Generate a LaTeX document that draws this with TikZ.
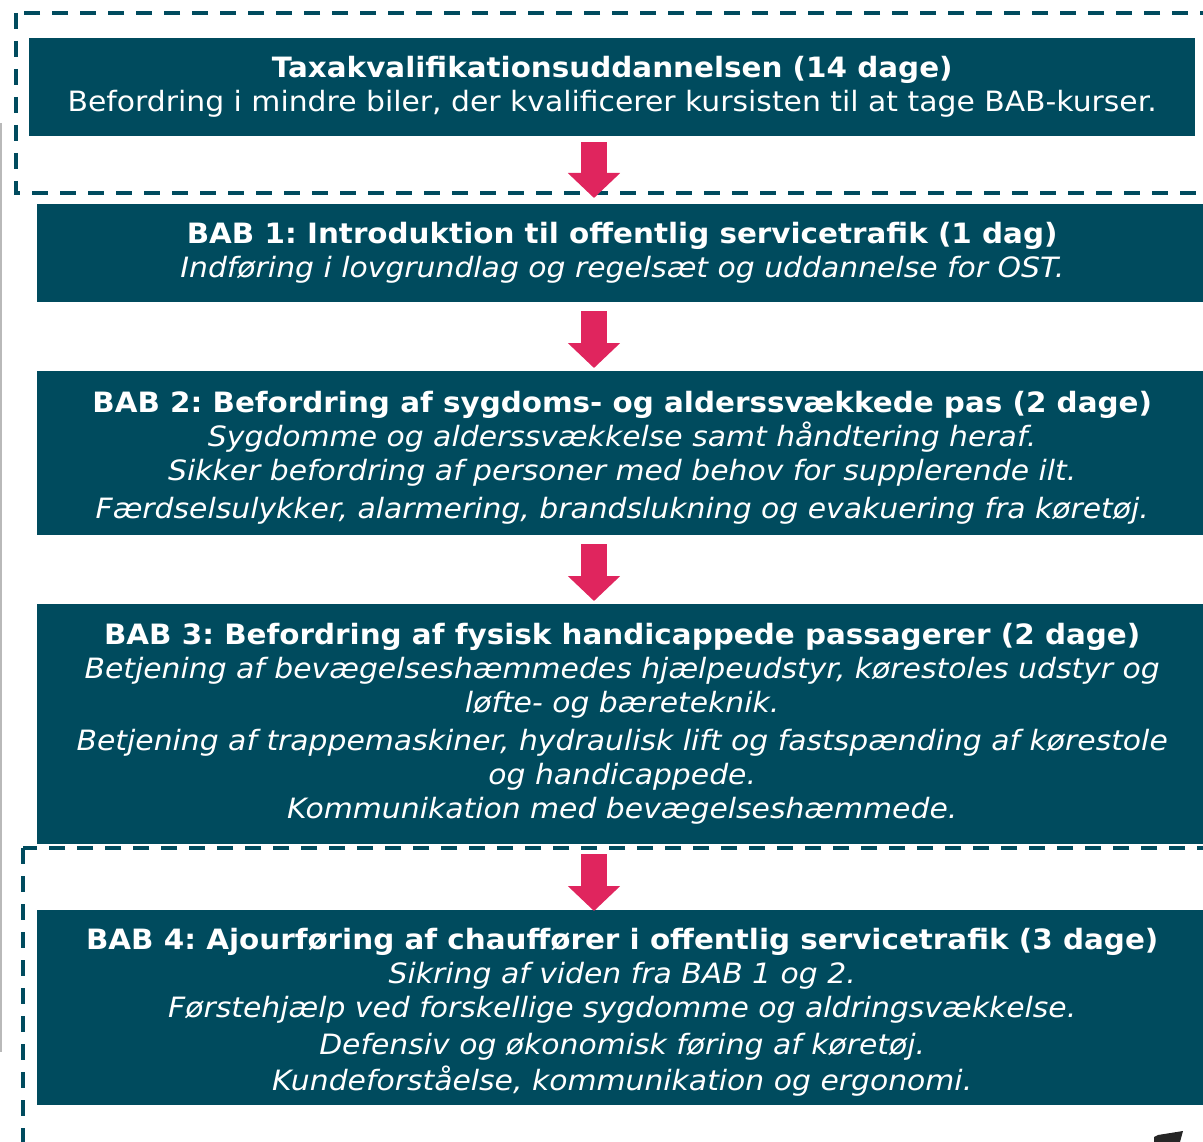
\documentclass[tikz,border=0pt]{standalone}
\usepackage{fontspec}
\setmainfont{DejaVu Sans}[FakeStretch=1.065,BoldFeatures={FakeStretch=1.05}]
\usetikzlibrary{arrows.meta,calc}
\definecolor{babteal}{RGB}{0,75,94}
\definecolor{babred}{RGB}{224,37,94}
\tikzset{
  babbox/.style={fill=babteal,text=white,inner sep=0pt,align=center,
    anchor=north west,font=\fontsize{28}{34}\selectfont},
  flowarrow/.style={draw=babred,line width=26pt,
    -{Triangle[width=51pt,length=25pt]}},
  groupframe/.style={draw=babteal,line width=3.5pt,
    dash pattern=on 16pt off 12pt},
}
\newcommand{\toplift}{\rule{0pt}{30pt}}
\frenchspacing

\begin{document}
\begin{tikzpicture}[x=1pt,y=-1pt]
	\useasboundingbox (0,0) rectangle (1203,1142);
	% stiplede rammer
	\draw[groupframe] (16,13) rectangle (1220,193);
	\draw[groupframe] (23,848) rectangle (1220,1170);
	\draw[gray!55,line width=1.5pt] (1,123) -- (1,1052);
	% kurser
	\node[babbox,minimum width=1166pt,minimum height=98pt] (tq) at (29,38)
	{\textbf{Taxakvalifikationsuddannelsen (14 dage)}\\
	 Befordring i mindre biler, der kvalificerer kursisten til at tage BAB-kurser.};
	\node[babbox,minimum width=1170pt,minimum height=98pt] (bab1) at (37,204)
	{\textbf{BAB 1: Introduktion til offentlig servicetrafik (1 dag)}\\
	 \textit{Indføring i lovgrundlag og regelsæt og uddannelse for OST.}};
	\node[babbox,minimum width=1170pt,minimum height=164pt] (bab2) at (37,371)
	{\toplift\textbf{BAB 2: Befordring af sygdoms- og alderssvækkede pas (2 dage)}\\
	 \textit{Sygdomme og alderssvækkelse samt håndtering heraf.}\\
	 \textit{Sikker befordring af personer med behov for supplerende ilt.}\\[4pt]
	 \textit{Færdselsulykker, alarmering, brandslukning og evakuering fra køretøj.}};
	\node[babbox,minimum width=1170pt,minimum height=240pt] (bab3) at (37,604)
	{\textbf{BAB 3: Befordring af fysisk handicappede passagerer (2 dage)}\\
	 \textit{Betjening af bevægelseshæmmedes hjælpeudstyr, kørestoles udstyr og}\\
	 \textit{løfte- og bæreteknik.}\\[4pt]
	 \textit{Betjening af trappemaskiner, hydraulisk lift og fastspænding af kørestole}\\
	 \textit{og handicappede.}\\
	 \textit{Kommunikation med bevægelseshæmmede.}};
	\node[babbox,minimum width=1170pt,minimum height=195pt] (bab4) at (37,910)
	{\toplift\textbf{BAB 4: Ajourføring af chauffører i offentlig servicetrafik (3 dage)}\\
	 \textit{Sikring af viden fra BAB 1 og 2.}\\
	 \textit{Førstehjælp ved forskellige sygdomme og aldringsvækkelse.}\\[3pt]
	 \textit{Defensiv og økonomisk føring af køretøj.}\\[2pt]
	 \textit{Kundeforståelse, kommunikation og ergonomi.}};
	% pile
	\coordinate (ax) at (594,0);
	\draw[flowarrow] ($(tq.south -| ax)+(0,6)$)   -- ($(bab1.north -| ax)+(0,-6)$);
	\draw[flowarrow] ($(bab1.south -| ax)+(0,9)$) -- ($(bab2.north -| ax)+(0,-3)$);
	\draw[flowarrow] ($(bab2.south -| ax)+(0,9)$) -- ($(bab3.north -| ax)+(0,-3)$);
	\draw[flowarrow] ($(bab3.south -| ax)+(0,10)$) -- ($(bab4.north -| ax)+(0,1)$);
	% sidetal (afskaaret)
	\fill[black!85] (1154,1142) -- (1154,1137) -- (1158,1135) -- (1183,1131)
	  -- (1180,1142) -- cycle;
\end{tikzpicture}
\end{document}
